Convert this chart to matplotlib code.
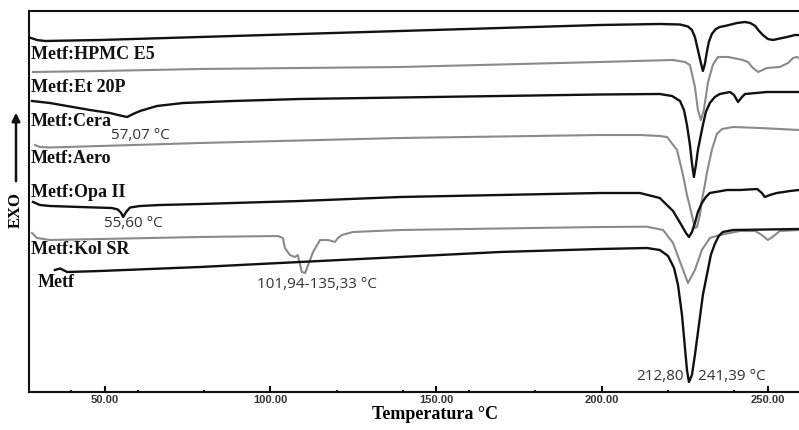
"""DSC thermograms of metformin and its binary mixtures with excipients."""

import matplotlib
matplotlib.use("Agg")
import matplotlib.pyplot as plt
from matplotlib.ticker import FixedLocator, FormatStrFormatter

# Temperature (°C) and heat flow (a.u., already stacked)
hpmc_t = [27.8, 29.6, 32.0, 48.6, 78.8, 108.9, 139.1, 169.3, 199.4, 217.5,
          223.6, 226.0, 227.2, 228.1, 229.0, 229.9, 230.5, 231.1, 231.7, 232.3,
          233.2, 234.4, 235.6, 237.8, 240.8, 243.2, 244.8, 246.3, 247.2, 248.6,
          250.1, 251.6, 253.7, 255.9, 258.3, 259.5]
hpmc_y = [35.4, 35.2, 35.1, 35.2, 35.5, 35.8, 36.1, 36.4, 36.7, 36.8,
          36.75, 36.55, 36.2, 35.5, 34.2, 32.9, 32.1, 32.8, 34.0, 35.0,
          35.8, 36.3, 36.5, 36.65, 36.9, 37.0, 36.9, 36.6, 36.2, 35.7,
          35.3, 35.2, 35.35, 35.5, 35.7, 35.7]

et_t = [28.4, 48.6, 78.8, 108.9, 139.1, 169.3, 199.4, 221.5, 225.1, 226.6,
        228.1, 229.0, 229.9, 230.8, 232.0, 233.5, 235.0, 238.1, 242.6, 244.1,
        245.6, 247.2, 249.8, 253.7, 256.2, 257.7, 258.9, 259.5]
et_y = [32.0, 32.1, 32.3, 32.4, 32.5, 32.75, 33.0, 33.2, 33.0, 32.7,
        30.5, 28.2, 27.2, 28.2, 30.9, 32.7, 33.5, 33.5, 33.2, 33.0,
        32.4, 32.0, 32.4, 32.5, 32.9, 33.4, 33.5, 33.4]

cera_t = [28.1, 33.5, 38.7, 45.6, 51.6, 54.7, 56.8, 58.6, 60.7, 65.8,
          73.7, 88.7, 108.9, 139.1, 169.3, 199.4, 217.5, 221.2, 223.6, 224.8,
          225.7, 226.6, 227.2, 227.8, 228.4, 229.0, 229.9, 230.5, 231.4, 232.6,
          234.1, 235.6, 238.7, 239.9, 241.1, 242.3, 243.2, 249.8, 259.5]
cera_y = [29.1, 28.9, 28.6, 28.2, 27.9, 27.65, 27.5, 27.8, 28.1, 28.6,
          28.9, 29.1, 29.3, 29.45, 29.6, 29.75, 29.8, 29.6, 29.1, 28.2,
          26.7, 24.7, 22.9, 21.5, 22.7, 24.2, 25.7, 26.7, 28.0, 28.9,
          29.5, 29.8, 30.0, 29.7, 29.0, 29.5, 29.8, 30.0, 30.0]

aero_t = [29.0, 30.5, 33.5, 48.6, 78.8, 108.9, 139.1, 169.3, 199.4, 211.5,
          217.5, 219.7, 222.7, 224.5, 225.7, 226.6, 228.1, 228.7, 229.6, 230.2,
          231.1, 231.7, 233.2, 234.7, 236.3, 239.6, 247.7, 259.5]
aero_y = [24.7, 24.5, 24.45, 24.6, 24.9, 25.15, 25.4, 25.55, 25.7, 25.7,
          25.6, 25.5, 24.2, 21.7, 19.7, 18.5, 16.4, 16.5, 17.7, 19.2,
          20.7, 21.9, 24.2, 25.8, 26.3, 26.5, 26.4, 26.2]

opa_t = [28.4, 30.5, 33.5, 42.6, 52.2, 54.0, 55.0, 55.6, 56.5, 57.7,
         60.7, 66.7, 78.8, 108.9, 139.1, 169.3, 199.4, 211.5, 217.5, 221.5,
         224.2, 225.4, 226.3, 227.2, 228.1, 229.0, 230.2, 231.4, 232.6, 237.8,
         241.7, 246.9, 248.3, 249.2, 250.7, 252.8, 256.8, 259.5]
opa_y = [19.0, 18.7, 18.6, 18.5, 18.4, 18.25, 17.9, 17.5, 18.0, 18.45,
         18.6, 18.7, 18.8, 19.1, 19.5, 19.7, 19.9, 19.9, 19.4, 18.1,
         16.6, 15.9, 15.5, 16.0, 16.9, 18.0, 18.9, 19.5, 19.9, 20.2,
         20.2, 20.3, 19.9, 19.5, 19.7, 19.9, 20.1, 20.2]

kol_t = [28.1, 29.6, 33.5, 48.6, 78.8, 102.3, 103.8, 104.4, 105.9, 107.4,
         108.3, 109.5, 110.5, 111.4, 112.9, 115.0, 117.4, 119.5, 120.4, 121.6,
         124.9, 139.1, 169.3, 199.4, 213.6, 218.5, 221.5, 224.2, 226.0, 228.1,
         230.2, 232.6, 235.6, 241.7, 246.3, 248.3, 250.1, 251.9, 253.7, 259.5]
kol_y = [15.9, 15.4, 15.2, 15.3, 15.5, 15.6, 15.4, 14.4, 13.7, 13.5,
         13.7, 12.0, 11.9, 12.7, 14.0, 15.2, 15.2, 15.0, 15.4, 15.7,
         16.0, 16.2, 16.35, 16.5, 16.53, 16.2, 14.9, 12.5, 10.9, 12.2,
         14.2, 15.4, 15.7, 16.1, 16.1, 15.7, 15.2, 15.6, 16.1, 16.2]

metf_t = [35.0, 36.6, 38.7, 48.6, 78.8, 108.9, 139.1, 169.3, 199.4, 213.6,
          217.5, 220.0, 221.8, 223.0, 224.2, 225.1, 225.7, 226.3, 227.2, 228.1,
          229.3, 230.5, 231.7, 232.9, 234.1, 235.3, 236.5, 239.6, 259.5]
metf_y = [12.2, 12.35, 12.0, 12.1, 12.5, 13.0, 13.5, 14.0, 14.3, 14.4,
          14.2, 13.6, 12.4, 10.7, 7.7, 4.4, 2.2, 1.0, 1.7, 3.7,
          6.7, 9.7, 11.7, 13.7, 14.8, 15.6, 16.0, 16.2, 16.3]

curves = [
    ("Metf:HPMC E5", hpmc_t, hpmc_y),
    ("Metf:Et 20P", et_t, et_y),
    ("Metf:Cera", cera_t, cera_y),
    ("Metf:Aero", aero_t, aero_y),
    ("Metf:Opa II", opa_t, opa_y),
    ("Metf:Kol SR", kol_t, kol_y),
    ("Metf", metf_t, metf_y),
]

BLACK = "#111111"
GRAY = "#8a8a8a"
SERIF = "Liberation Serif"
SANS = "Open Sans"

fig = plt.figure(figsize=(7.99, 4.30), dpi=100)
ax = fig.add_axes([29 / 799, 38 / 430, 770 / 799, 381 / 430])

for i, (name, t, y) in enumerate(curves):
    color = BLACK if i % 2 == 0 else GRAY
    ax.plot(t, y, color=color, lw=1.7 if i % 2 == 0 else 1.5,
            zorder=3 if i % 2 == 0 else 2, solid_joinstyle="round")

ax.set_xlim(27.2, 259.5)
ax.set_ylim(0, 38.1)

# Curve labels
label_kw = dict(family=SERIF, fontweight="bold", fontsize=13, va="center", ha="left", color=BLACK)
ax.text(27.8, 33.75, "Metf:HPMC E5", **label_kw)
ax.text(27.8, 30.45, "Metf:Et 20P", **label_kw)
ax.text(27.8, 27.05, "Metf:Cera", **label_kw)
ax.text(27.8, 23.35, "Metf:Aero", **label_kw)
ax.text(27.8, 19.95, "Metf:Opa II", **label_kw)
ax.text(27.8, 14.25, "Metf:Kol SR", **label_kw)
ax.text(29.9, 10.95, "Metf", **label_kw)

# Peak annotations
ann_kw = dict(family=SANS, fontsize=11, va="center", color="#333333", zorder=1)
ax.text(60.7, 25.7, "57,07 °C", ha="center", **ann_kw)
ax.text(58.6, 16.9, "55,60 °C", ha="center", **ann_kw)
ax.text(114.1, 10.8, "101,94-135,33 °C", ha="center", **ann_kw)
ax.text(224.6, 1.5, "212,80", ha="right", **ann_kw)
ax.text(229.0, 1.5, "241,39 °C", ha="left", **ann_kw)

# Axes styling
ax.spines["right"].set_visible(False)
for side in ["left", "top", "bottom"]:
    ax.spines[side].set_linewidth(1.5)
    ax.spines[side].set_color(BLACK)

ax.set_yticks([])
ax.xaxis.set_major_locator(FixedLocator([50, 100, 150, 200, 250]))
ax.xaxis.set_minor_locator(FixedLocator([40, 60, 80, 120, 140, 160, 180, 220, 240]))
ax.xaxis.set_major_formatter(FormatStrFormatter("%.2f"))
ax.tick_params(axis="x", which="major", direction="in", length=4, width=1.5,
               pad=2, labelsize=8, labelcolor="#333333")
ax.tick_params(axis="x", which="minor", direction="in", length=1.5, width=1.5)
for lbl in ax.get_xticklabels():
    lbl.set_fontweight("bold")
    lbl.set_family("Liberation Sans")

ax.set_xlabel("Temperatura °C", family=SERIF, fontweight="bold", fontsize=13)
ax.xaxis.set_label_coords((435 - 29) / 770, -14 / 381)

# EXO arrow on the left
fig.text(16 / 799, 1 - 210 / 430, "EXO", rotation=90, ha="center", va="center",
         family=SERIF, fontweight="bold", fontsize=12)
ax.annotate("", xy=(16 / 799, 1 - 110 / 430), xytext=(16 / 799, 1 - 184 / 430),
            xycoords="figure fraction", textcoords="figure fraction",
            arrowprops=dict(arrowstyle="-|>", lw=1.8, color=BLACK, mutation_scale=12))

plt.savefig("out.png", dpi=100)
